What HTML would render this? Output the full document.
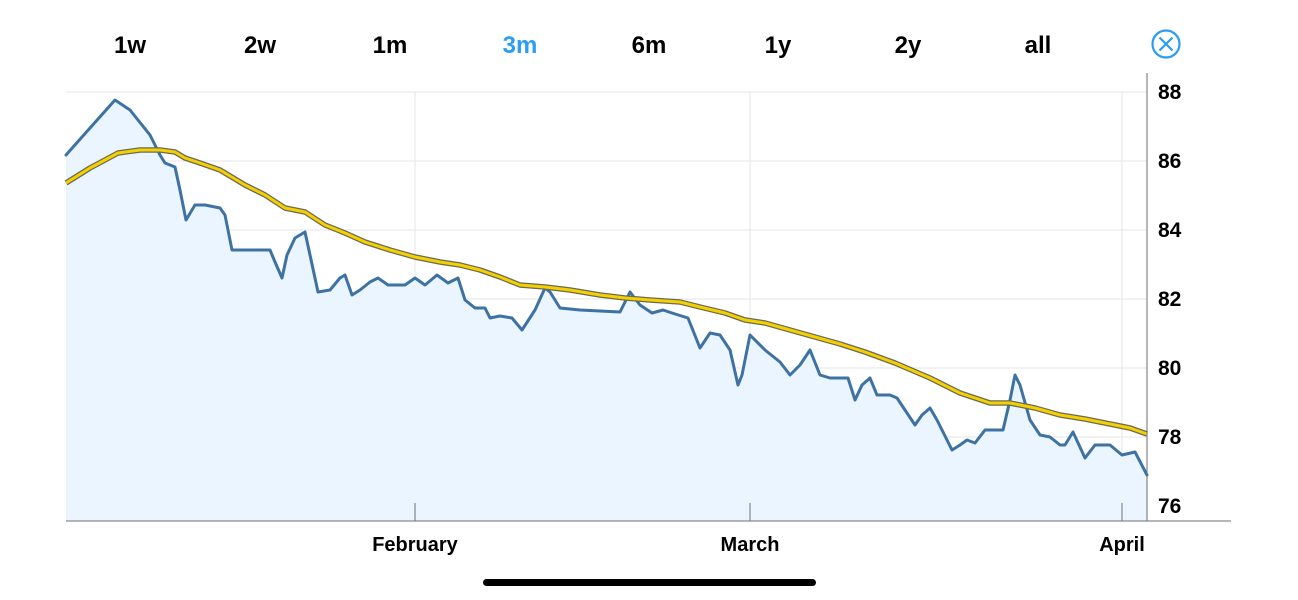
<!DOCTYPE html>
<html><head><meta charset="utf-8"><style>
html,body{margin:0;padding:0;background:#fff;width:1298px;height:600px;overflow:hidden}
svg text{font-family:"Liberation Sans",sans-serif}
</style></head><body>
<svg width="1298" height="600" viewBox="0 0 1298 600">
<g font-size="24" font-weight="bold" text-anchor="middle" fill="#000">
<text x="130" y="53">1w</text><text x="260" y="53">2w</text><text x="390" y="53">1m</text>
<text x="520" y="53" fill="#2a9df4">3m</text><text x="649" y="53">6m</text><text x="778" y="53">1y</text>
<text x="908" y="53">2y</text><text x="1038" y="53">all</text>
</g>
<circle cx="1166" cy="44" r="13.5" fill="none" stroke="#2a9df4" stroke-width="2.2"/>
<path d="M1159.5 37.5L1172.5 50.5M1172.5 37.5L1159.5 50.5" stroke="#2a9df4" stroke-width="2.2"/>
<g stroke="#e6e6e6" stroke-width="1">
<line x1="66" y1="92" x2="1147" y2="92"/><line x1="66" y1="161" x2="1147" y2="161"/>
<line x1="66" y1="230" x2="1147" y2="230"/><line x1="66" y1="299" x2="1147" y2="299"/>
<line x1="66" y1="368" x2="1147" y2="368"/><line x1="66" y1="437" x2="1147" y2="437"/>
<line x1="66" y1="506" x2="1147" y2="506"/>
<line x1="415" y1="92" x2="415" y2="521"/><line x1="750" y1="92" x2="750" y2="521"/><line x1="1122" y1="92" x2="1122" y2="521"/>
</g>
<polygon fill="#eaf5ff" points="66,521 66,155 90,128 115,100 130,110 150,135 160,155 165,163 175,167 180,190 186,220 195,205 205,205 220,208 225,215 232,250 270,250 275,262 282,278 287,255 295,238 305,232 310,255 318,292 330,290 340,278 345,275 352,295 360,290 370,282 378,278 388,285 405,285 415,278 425,285 437,275 448,283 458,278 465,300 475,308 485,308 490,318 500,316 512,318 522,330 535,310 545,288 550,292 560,308 580,310 620,312 630,292 640,305 652,313 663,310 672,313 688,318 700,348 710,333 720,335 730,350 738,385 742,375 750,335 765,350 780,362 790,375 800,365 810,350 820,375 830,378 848,378 855,400 862,385 870,378 877,395 890,395 897,398 905,410 915,425 922,415 930,408 937,420 943,432 952,450 960,445 967,440 975,443 985,430 1003,430 1010,400 1015,375 1020,385 1030,420 1040,435 1050,437 1060,445 1065,445 1073,432 1085,458 1095,445 1110,445 1122,455 1135,452 1147,475 1147,521"/>
<polyline fill="none" stroke="#3d72a3" stroke-width="3" stroke-linejoin="round" stroke-linecap="round" points="66,155 90,128 115,100 130,110 150,135 160,155 165,163 175,167 180,190 186,220 195,205 205,205 220,208 225,215 232,250 270,250 275,262 282,278 287,255 295,238 305,232 310,255 318,292 330,290 340,278 345,275 352,295 360,290 370,282 378,278 388,285 405,285 415,278 425,285 437,275 448,283 458,278 465,300 475,308 485,308 490,318 500,316 512,318 522,330 535,310 545,288 550,292 560,308 580,310 620,312 630,292 640,305 652,313 663,310 672,313 688,318 700,348 710,333 720,335 730,350 738,385 742,375 750,335 765,350 780,362 790,375 800,365 810,350 820,375 830,378 848,378 855,400 862,385 870,378 877,395 890,395 897,398 905,410 915,425 922,415 930,408 937,420 943,432 952,450 960,445 967,440 975,443 985,430 1003,430 1010,400 1015,375 1020,385 1030,420 1040,435 1050,437 1060,445 1065,445 1073,432 1085,458 1095,445 1110,445 1122,455 1135,452 1147,475"/>
<g fill="none" stroke-linejoin="round">
<polyline stroke="#6a6a55" stroke-width="5.5" points="66,183 90,168 118,153 140,150 160,150 175,152 185,158 200,163 220,170 245,185 265,195 285,208 305,212 325,225 345,233 365,242 390,250 415,257 440,262 460,265 480,270 500,277 520,285 545,287 570,290 600,295 625,298 650,300 680,302 700,307 725,313 745,320 765,323 790,330 815,337 840,344 865,352 895,363 930,378 960,393 990,403 1010,403 1035,408 1060,415 1085,419 1110,424 1130,428 1147,434"/>
<polyline stroke="#f5d000" stroke-width="3" points="66,183 90,168 118,153 140,150 160,150 175,152 185,158 200,163 220,170 245,185 265,195 285,208 305,212 325,225 345,233 365,242 390,250 415,257 440,262 460,265 480,270 500,277 520,285 545,287 570,290 600,295 625,298 650,300 680,302 700,307 725,313 745,320 765,323 790,330 815,337 840,344 865,352 895,363 930,378 960,393 990,403 1010,403 1035,408 1060,415 1085,419 1110,424 1130,428 1147,434"/>
</g>
<g stroke="#6e6e73" stroke-width="1">
<line x1="1147" y1="73" x2="1147" y2="521"/>
<line x1="66" y1="521" x2="1231" y2="521"/>
<line x1="415" y1="503" x2="415" y2="521"/><line x1="750" y1="503" x2="750" y2="521"/><line x1="1122" y1="503" x2="1122" y2="521"/>
</g>
<g font-size="21" font-weight="bold" fill="#000">
<text x="1158" y="99">88</text><text x="1158" y="168">86</text><text x="1158" y="237">84</text>
<text x="1158" y="306">82</text><text x="1158" y="375">80</text><text x="1158" y="444">78</text><text x="1158" y="513">76</text>
</g>
<g font-size="20" font-weight="bold" fill="#000" text-anchor="middle">
<text x="415" y="551">February</text><text x="750" y="551">March</text><text x="1122" y="551">April</text>
</g>
<rect x="483" y="579" width="333" height="7" rx="3.5" fill="#000"/>
</svg>
</body></html>
